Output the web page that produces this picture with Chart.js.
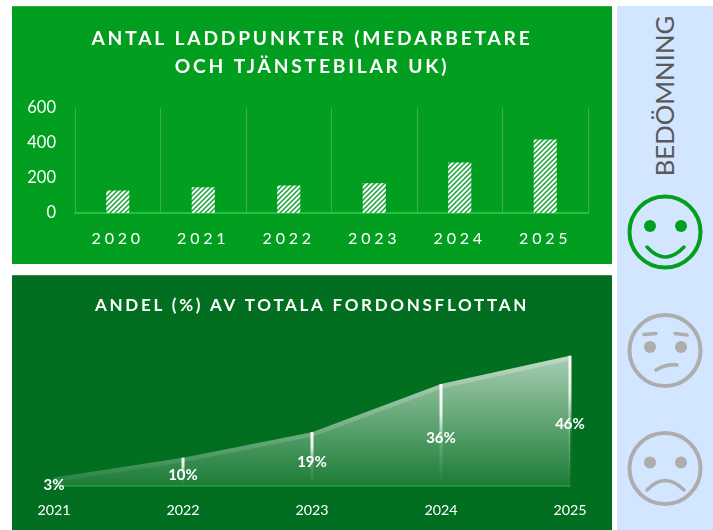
<!DOCTYPE html>
<html><head><meta charset="utf-8">
<script src="https://cdn.jsdelivr.net/npm/chart.js@4"></script>
<style>
html,body{margin:0;padding:0;background:#fff;width:713px;height:530px;overflow:hidden}
.panel{position:absolute;left:12px;width:600px}
.edge{position:absolute;left:0;top:0;width:100%;height:1px;background:rgba(255,255,255,.2)}
canvas{display:block}
#side{position:absolute;left:617px;top:6px;width:96px;height:524px;background:#D2E6FF}
#lab{position:absolute;left:664px;top:95.5px;transform:translate(-50%,-50%) rotate(-90deg);font:25.7px Lato,sans-serif;color:#595959;white-space:nowrap}
svg{position:absolute;left:0;top:0}
</style></head><body>
<div class="panel" style="top:6px;height:258px;background:#029E1F"><canvas id="c1" width="600" height="258"></canvas><div class="edge"></div></div>
<div class="panel" style="top:275px;height:255px;background:#026E20"><canvas id="c2" width="600" height="255"></canvas><div class="edge"></div></div>
<div id="side"></div>
<div id="lab">BEDÖMNING</div>
<svg width="713" height="530" fill="none" stroke-linecap="round">
 <g stroke="#00A01E">
  <circle cx="665" cy="232" r="35.5" stroke-width="4"/>
  <circle cx="650" cy="226" r="6" fill="#00A01E" stroke="none"/>
  <circle cx="681" cy="226" r="6" fill="#00A01E" stroke="none"/>
  <path d="M647 247Q665 267 684 247" stroke-width="3.5"/>
 </g>
 <g stroke="#ADADAD">
  <circle cx="665" cy="350.5" r="35.5" stroke-width="4"/>
  <circle cx="650" cy="347" r="6" fill="#ADADAD" stroke="none"/>
  <circle cx="681" cy="347" r="6" fill="#ADADAD" stroke="none"/>
  <path d="M644 334.5L656 333.5M675 333.5L687 335M656 370Q666 364 677 365" stroke-width="3.5"/>
 </g>
 <g stroke="#ADADAD">
  <circle cx="665" cy="468.5" r="35.5" stroke-width="4"/>
  <circle cx="650" cy="462.5" r="6" fill="#ADADAD" stroke="none"/>
  <circle cx="681" cy="462.5" r="6" fill="#ADADAD" stroke="none"/>
  <path d="M647 490Q665 471 684 490" stroke-width="3.5"/>
 </g>
</svg>
<script>
const barYears = ['2020','2021','2022','2023','2024','2025'];
const barValues = [128,146,157,170,287,419];
const barTicks = [0,200,400,600];
const barTitle = ['ANTAL LADDPUNKTER (MEDARBETARE','OCH TJÄNSTEBILAR UK)'];
const areaYears = ['2021','2022','2023','2024','2025'];
const areaValues = [3,10,19,36,46];
const areaTitle = 'ANDEL (%) AV TOTALA FORDONSFLOTTAN';

function hatch(){
  const t=document.createElement('canvas');t.width=t.height=5;
  const g=t.getContext('2d');
  g.fillStyle='#fff';g.fillRect(0,0,5,5);
  g.strokeStyle='#14A533';g.lineWidth=1.5;
  g.beginPath();
  g.moveTo(-3,3);g.lineTo(3,-3);g.moveTo(0,5);g.lineTo(5,0);g.moveTo(2,8);g.lineTo(8,2);
  g.stroke();
  return g.createPattern(t,'repeat');
}
function spacing(fn,px,dx){
  return function(...a){const c=this.ctx;c.save();c.letterSpacing=px;c.translate(dx,0);fn.apply(this,a);c.restore();};
}
const spacingPlugin=(titlePx,xPx,titleDx)=>({
  id:'spacing',
  beforeDraw(chart){
    if(chart.$sp)return;chart.$sp=true;
    chart.titleBlock.draw=spacing(chart.titleBlock.draw,titlePx,titleDx);
    chart.scales.x.drawLabels=spacing(chart.scales.x.drawLabels,xPx,0);
  }
});

new Chart(document.getElementById('c1'),{
  type:'bar',
  data:{labels:barYears,datasets:[{data:barValues,backgroundColor:hatch(),barPercentage:0.27,categoryPercentage:1}]},
  plugins:[spacingPlugin('2.8px','3.8px',12)],
  options:{
    responsive:false,animation:false,devicePixelRatio:1,
    layout:{padding:{left:0,right:24,top:0,bottom:0}},
    plugins:{legend:{display:false},tooltip:{enabled:false},
      title:{display:true,text:barTitle,color:'#fff',font:{family:'Lato',size:19.2,weight:'bold',lineHeight:1.5},padding:{top:18,bottom:26}}},
    scales:{
      x:{grid:{color:'#3DAE55',lineWidth:1,drawTicks:false},border:{color:'#1FC43F',width:2},
        ticks:{color:'#fff',font:{family:'Lato',size:16},padding:16,maxRotation:0},
        afterFit:s=>{s.height=51}},
      y:{min:0,max:600,afterBuildTicks:s=>{s.ticks=barTicks.map(v=>({value:v}))},
        grid:{display:false},border:{display:false},
        ticks:{color:'#fff',font:{family:'Lato',size:16.5},padding:11},
        afterFit:s=>{s.width=63}}
    }
  }
});

const areaDecor={
  id:'areaDecor',
  afterDatasetsDraw(chart){
    const c=chart.ctx,pts=chart.getDatasetMeta(0).data,base=chart.scales.y.getPixelForValue(0);
    const last=pts[pts.length-1];
    c.save();
    c.beginPath();
    pts.forEach((p,i)=>i?c.lineTo(p.x,p.y):c.moveTo(p.x,p.y));
    c.lineTo(last.x,base);c.lineTo(pts[0].x,base);c.closePath();c.clip();
    c.beginPath();
    pts.forEach((p,i)=>i?c.lineTo(p.x,p.y):c.moveTo(p.x,p.y));
    const b=c.createLinearGradient(pts[0].x,0,last.x,0);
    b.addColorStop(0,'rgba(255,255,255,.04)');
    b.addColorStop(1,'rgba(255,255,255,.26)');
    c.strokeStyle=b;c.lineWidth=9;c.stroke();
    c.restore();
    pts.forEach((p,i)=>{
      if(i>0){
        const g=c.createLinearGradient(0,p.y,0,base);
        g.addColorStop(0,'rgba(255,255,255,1)');
        g.addColorStop(.3,'rgba(255,255,255,.85)');
        g.addColorStop(.6,'rgba(255,255,255,.15)');
        g.addColorStop(1,'rgba(255,255,255,0)');
        c.fillStyle=g;c.fillRect(p.x-1.5,p.y,3,base-p.y);
      }
      c.save();
      c.font='bold 15px Lato';c.fillStyle='#fff';c.textAlign='center';c.textBaseline='middle';
      c.fillText(areaValues[i]+'%',p.x,(p.y+base)/2+3);
      c.restore();
    });
  }
};

new Chart(document.getElementById('c2'),{
  type:'line',
  data:{labels:areaYears,datasets:[{data:areaValues,fill:'origin',pointRadius:0,borderWidth:0,tension:0,clip:false,
    backgroundColor(ctx){
      const ch=ctx.chart;
      if(!ch.chartArea)return 'rgba(255,255,255,.3)';
      const top=ch.scales.y.getPixelForValue(Math.max(...areaValues)),bot=ch.scales.y.getPixelForValue(0);
      const g=ch.ctx.createLinearGradient(0,top,0,bot);
      g.addColorStop(0,'rgba(255,255,255,.66)');
      g.addColorStop(1,'rgba(255,255,255,.1)');
      return g;
    }}]},
  plugins:[spacingPlugin('2.7px','0px',0),areaDecor],
  options:{
    responsive:false,animation:false,devicePixelRatio:1,
    layout:{padding:{left:42,right:42,top:0,bottom:0}},
    plugins:{legend:{display:false},tooltip:{enabled:false},
      title:{display:true,text:areaTitle,color:'#fff',font:{family:'Lato',size:17,weight:'bold',lineHeight:1.2},padding:{top:20,bottom:0.6}}},
    scales:{
      x:{offset:false,grid:{display:false},border:{color:'#0F8E31',width:2},
        ticks:{color:'#fff',font:{family:'Lato',size:14.3},padding:8,maxRotation:0},
        afterFit:s=>{s.height=44}},
      y:{display:false,min:0,max:60}
    }
  }
});
</script>
</body></html>
